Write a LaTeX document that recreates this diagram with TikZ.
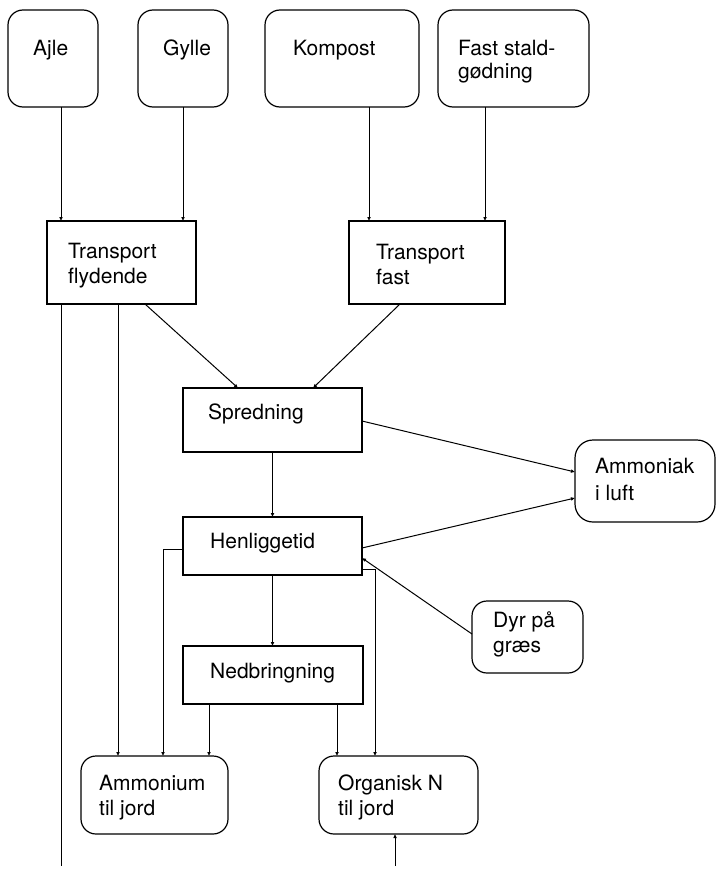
\documentclass[tikz,border=0pt]{standalone}
\usepackage{fontspec}
\setmainfont{TeX Gyre Heros}
\usetikzlibrary{arrows.meta}
\begin{document}
\begin{tikzpicture}[x=1pt,y=-1pt,
  boxbase/.style={draw, line width=1.2pt, inner sep=0pt, outer sep=0pt},
  rbox/.style={boxbase, rounded corners=15pt},
  sbox/.style={boxbase},
  % labels are placed by the baseline of their last line
  lbl/.style={anchor=base west, inner sep=0pt, align=left,
              font=\fontsize{21}{25}\selectfont},
  link/.style={line width=1pt},
  arr/.style={link, -{Latex[length=4pt,width=3.8pt]}}]
\useasboundingbox[fill=white] (0,0) rectangle (717,870);

% sources
\node[rbox, minimum width=90pt,  minimum height=97pt] (ajle)    at (53,58.5)    {};
\node[rbox, minimum width=90pt,  minimum height=97pt] (gylle)   at (183,58.5)   {};
\node[rbox, minimum width=154pt, minimum height=97pt] (kompost) at (342,58.5)   {};
\node[rbox, minimum width=151pt, minimum height=97pt] (fast)    at (513.5,58.5) {};

% process steps
\node[sbox, minimum width=149pt, minimum height=83pt] (tfly)  at (121.5,262.5) {};
\node[sbox, minimum width=156pt, minimum height=83pt] (tfast) at (427,262.5)   {};
\node[sbox, minimum width=179pt, minimum height=64pt] (spred) at (272.5,420)   {};
\node[sbox, minimum width=179pt, minimum height=58pt] (henl)  at (272.5,546)   {};
\node[sbox, minimum width=180pt, minimum height=58pt] (nedb)  at (273,675)     {};

% sinks and other sources
\node[rbox, minimum width=147pt, minimum height=78pt] (ammon) at (154.5,795) {};
\node[rbox, minimum width=159pt, minimum height=78pt] (org)   at (398.5,795) {};
\node[rbox, minimum width=111pt, minimum height=72pt] (dyr)   at (527.5,637) {};
\node[rbox, minimum width=140pt, minimum height=82pt, rounded corners=18pt] (amk) at (645,481) {};

% labels
\node[lbl] (ajle-t)    at (33,55)   {Ajle};
\node[lbl] (gylle-t)   at (163,55)  {Gylle};
\node[lbl] (kompost-t) at (293,55)  {Kompost};
\node[lbl, font=\fontsize{21}{23}\selectfont] (fast-t) at (458,78) {Fast stald-\\gødning};
\node[lbl] (tfly-t)    at (68,283)  {Transport\\flydende};
\node[lbl] (tfast-t)   at (376,284) {Transport\\fast};
\node[lbl] (spred-t)   at (208,419) {Spredning};
\node[lbl] (henl-t)    at (210,548) {Henliggetid};
\node[lbl] (nedb-t)    at (210,678) {Nedbringning};
\node[lbl] (ammon-t)   at (99,815)  {Ammonium\\til jord};
\node[lbl] (org-t)     at (338,815) {Organisk N\\til jord};
\node[lbl] (dyr-t)     at (493,652) {Dyr på\\græs};
\node[lbl, font=\fontsize{21}{27}\selectfont] (amk-t) at (595,500) {Ammoniak\\i luft};

% loose ends at the lower edge
\coordinate (leftend) at (61,866);
\coordinate (orgin)   at (395,866);

% sources to transport
\draw[arr] ([xshift=8pt]ajle.south)       -- ([xshift=8pt]ajle.south |- tfly.north);
\draw[arr] (gylle.south)                   -- (gylle.south |- tfly.north);
\draw[arr] ([xshift=27pt]kompost.south)   -- ([xshift=27pt]kompost.south |- tfast.north);
\draw[arr] ([xshift=-28.5pt]fast.south)   -- ([xshift=-28.5pt]fast.south |- tfast.north);

% transport to spreading
\draw[arr] ([xshift=23.5pt]tfly.south)  -- ([xshift=-34.5pt]spred.north);
\draw[arr] ([xshift=-27pt]tfast.south)  -- ([xshift=40.5pt]spred.north);

% spreading chain
\draw[arr] (spred.south) -- (spred.south |- henl.north);
\draw[arr] (henl.south)  -- (henl.south |- nedb.north);

% ammonia to air
\draw[arr] ([yshift=-1pt]spred.east) -- ([yshift=9pt]amk.west);
\draw[arr] ([yshift=-2pt]henl.east)  -- ([yshift=-17pt]amk.west);

% grazing animals
\draw[arr] ([yshift=3pt]dyr.west) -- ([yshift=-12pt]henl.east);

% to ammonium in soil
\draw[arr] ([xshift=-3.5pt]tfly.south) -- ([xshift=-3.5pt]tfly.south |- ammon.north);
\draw[arr] ([yshift=-3pt]henl.west) -| ([xshift=8.5pt]ammon.north);
\draw[arr] ([xshift=-64pt]nedb.south) -- ([xshift=-64pt]nedb.south |- ammon.north);

% to organic N in soil
\draw[arr] ([xshift=64pt]nedb.south) -- ([xshift=64pt]nedb.south |- org.north);
\draw[arr] ([yshift=-23pt]henl.east) -| ([xshift=-23.5pt]org.north);
\draw[arr] (orgin) -- (orgin |- org.south);

% long line down the left side
\draw[link] ([xshift=-60.5pt]tfly.south) -- (leftend);
\end{tikzpicture}
\end{document}
